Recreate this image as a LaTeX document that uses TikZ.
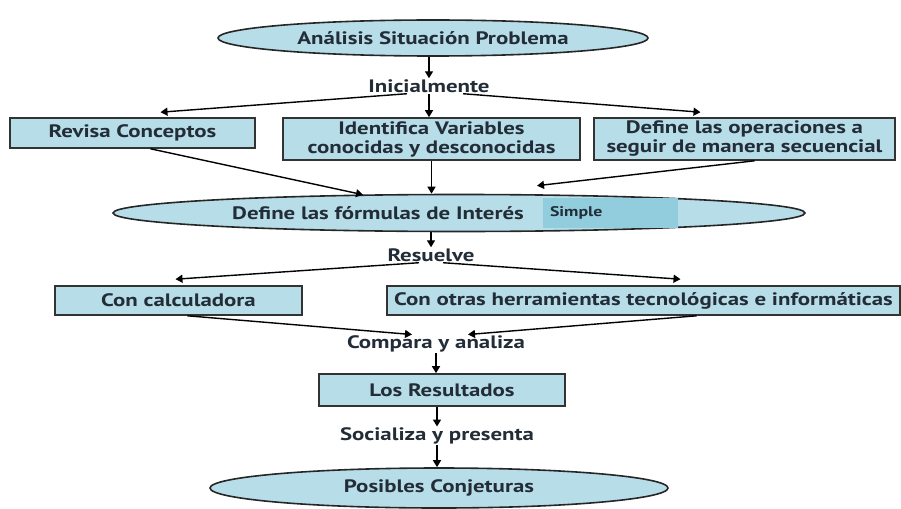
\documentclass[tikz,border=0pt]{standalone}
\usepackage{fontspec}
\setmainfont{PT Sans}[FakeStretch=1.27]
\usetikzlibrary{arrows.meta, shapes.geometric}
\definecolor{cajaAzul}{RGB}{183, 221, 232}
\definecolor{simpleAzul}{RGB}{146, 205, 221}
\definecolor{textoOscuro}{RGB}{35, 45, 55}

\begin{document}
\begin{tikzpicture}[x=1pt, y=-1pt,
  font=\fontsize{18}{19}\selectfont\bfseries, text=textoOscuro,
  elipse/.style={draw=black!85, line width=1.6pt, fill=cajaAzul, ellipse, inner sep=0pt},
  caja/.style={draw=black!80, line width=1.6pt, fill=cajaAzul, inner sep=0pt, align=center},
  etiqueta/.style={inner sep=1pt},
  flecha/.style={draw=black, line width=1.4pt, -{Triangle[length=7pt, width=8pt]}}]
  \useasboundingbox (0,0) rectangle (901,508);
  % Situacion problema e inicio
  \node[elipse, minimum width=430pt, minimum height=36pt] (analisis) at (433,38) {Análisis Situación Problema};
  \node[etiqueta] (inicial) at (429,86) {Inicialmente};
  \node[caja, minimum width=245pt, minimum height=30pt] (revisa) at (132.5,133) {Revisa Conceptos};
  \node[caja, minimum width=297pt, minimum height=42pt] (identifica) at (431.5,139) {Identifica Variables\\conocidas y desconocidas};
  \node[caja, minimum width=301pt, minimum height=42pt] (operaciones) at (744.5,139) {Define las operaciones a\\seguir de manera secuencial};

  % Formulas
  \node[elipse, minimum width=692pt, minimum height=37pt] (formulas) at (459,213) {};
  \node[etiqueta] (formtexto) at (378,213) {Define las fórmulas de Interés};
  \node[fill=simpleAzul, minimum height=30pt, inner xsep=7pt, text width=121pt, align=left,
        font=\fontsize{14}{15}\selectfont\bfseries] (simple) at (610.5,213) {Simple};

  % Resolver
  \node[etiqueta] (resuelve) at (431,255) {Resuelve};
  \node[caja, minimum width=247pt, minimum height=29pt] (calc) at (178.5,300.5) {Con calculadora};
  \node[caja, minimum width=513pt, minimum height=29pt] (otras) at (643.5,300.5) {Con otras herramientas tecnológicas e informáticas};

  % Comparar y presentar
  \node[etiqueta] (compara) at (436,344) {Compara y analiza};
  \node[caja, minimum width=246pt, minimum height=32pt] (resultados) at (442,390) {Los Resultados};
  \node[etiqueta] (socializa) at (437,436) {Socializa y presenta};
  \node[elipse, minimum width=458pt, minimum height=40pt] (conjeturas) at (439,488) {Posibles Conjeturas};

  \draw[flecha] (analisis.south -| inicial.north) -- (inicial.north);
  \draw[flecha] ([xshift=-22pt]inicial.south) -- ([xshift=28pt, yshift=5pt]revisa.north);
  \draw[flecha] (inicial.south) -- (inicial.south |- identifica.north);
  \draw[flecha] ([xshift=34pt]inicial.south) -- ([xshift=-44pt, yshift=5pt]operaciones.north);

  \draw[flecha] ([xshift=18pt]revisa.south) -- ([xshift=-96pt, yshift=-1pt]formulas.north);
  \draw[flecha] (identifica.south) -- (identifica.south |- formulas.north);
  \draw[flecha] ([xshift=10pt]operaciones.south) -- ([xshift=78pt, yshift=8pt]formulas.north);

  \draw[flecha] (formulas.south -| resuelve.north) -- (resuelve.north);
  \draw[flecha] ([xshift=-12pt]resuelve.south) -- ([xshift=-3pt, yshift=6pt]calc.north);
  \draw[flecha] ([xshift=12pt]resuelve.south) -- ([xshift=37pt, yshift=6pt]otras.north);

  \draw[flecha] ([xshift=9pt]calc.south) -- ([xshift=-24pt]compara.north);
  \draw[flecha] ([xshift=53pt]otras.south) -- ([xshift=32pt]compara.north);
  \draw[flecha] (compara.south) -- (compara.south |- resultados.north);
  \draw[flecha] (resultados.south -| socializa.north) -- (socializa.north);
  \draw[flecha] (socializa.south) -- (socializa.south |- conjeturas.north);
\end{tikzpicture}
\end{document}
